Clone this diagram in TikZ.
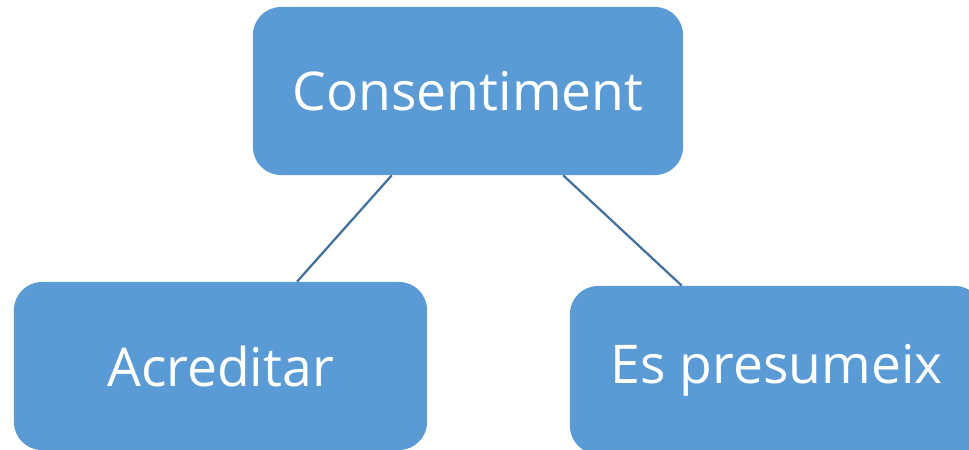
\documentclass[tikz,border=0pt]{standalone}
\usepackage{fontspec}
\setmainfont{Open Sans}
\usetikzlibrary{calc}
\definecolor{boxblue}{HTML}{5B9BD5}
\definecolor{linkblue}{HTML}{41719C}

\begin{document}
\begin{tikzpicture}[x=0.025cm, y=-0.025cm,
        concept/.style={fill=boxblue, text=white, rounded corners=0.7cm,
            minimum height=4.2cm, font=\fontsize{38}{46}\selectfont},
        link/.style={draw=linkblue, line width=1.6pt}]
        \useasboundingbox (0, 0) rectangle (969, 449);
        \node (consnt) at (468, 91) [concept, minimum width=10.75cm] {Consentiment};
        \node (acred) at (220.5, 366) [concept, minimum width=10.325cm] {Acreditar};
        \node (presum) at (776.5, 370) [concept, minimum width=10.325cm] {Es presumeix};

        \draw [link] ($(consnt.south west)!0.323!(consnt.south east)$) -- ($(acred.north west)!0.685!(acred.north east)$);
        \draw [link] ($(consnt.south west)!0.721!(consnt.south east)$) -- ($(presum.north west)!0.271!(presum.north east)$);
    \end{tikzpicture}
\end{document}
